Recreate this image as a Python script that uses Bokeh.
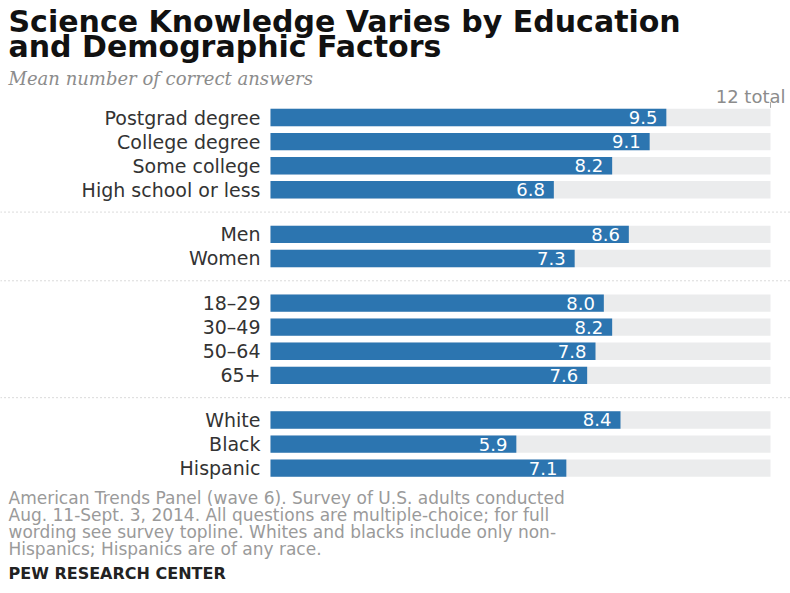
from bokeh.plotting import figure
from bokeh.models import Range1d, Span, Label, ColumnDataSource
from bokeh.core.properties import value
from bokeh.embed import file_html
from bokeh.resources import INLINE

# ---- data ----
categories = ["Postgrad degree", "College degree", "Some college", "High school or less",
              "Men", "Women",
              "18\u201329", "30\u201349", "50\u201364", "65+",
              "White", "Black", "Hispanic"]
scores = [9.5, 9.1, 8.2, 6.8, 8.6, 7.3, 8.0, 8.2, 7.8, 7.6, 8.4, 5.9, 7.1]
groups = [0, 0, 0, 0, 1, 1, 2, 2, 2, 2, 3, 3, 3]
total = 12
title_text = "Science Knowledge Varies by Education\nand Demographic Factors"
subtitle_text = "Mean number of correct answers"
note_text = ("American Trends Panel (wave 6). Survey of U.S. adults conducted\n"
             "Aug. 11-Sept. 3, 2014. All questions are multiple-choice; for full\n"
             "wording see survey topline. Whites and blacks include only non-\n"
             "Hispanics; Hispanics are of any race.")
source_text = "PEW RESEARCH CENTER"

# ---- layout ----
W, H = 790, 593
GAP = 0.85          # extra space between groups, in rows
ROW_PX = 24.1       # pixels per row
PX_PER_UNIT = 500 / total
BAR_LEFT_PX = 270   # canvas x of value 0
FIRST_ROW_PX = 117  # canvas y of first row

pos = [i + g * GAP for i, g in enumerate(groups)]
x0 = -BAR_LEFT_PX / PX_PER_UNIT
x1 = x0 + W / PX_PER_UNIT
ytop = -FIRST_ROW_PX / ROW_PX
ybot = ytop + H / ROW_PX

src = ColumnDataSource(dict(
    y=pos, cat=categories, v=scores, t=[total] * len(scores),
    lbl=["%.1f" % s for s in scores]))

p = figure(width=W, height=H, output_backend="svg", toolbar_location=None,
           x_range=Range1d(x0, x1), y_range=Range1d(ybot, ytop),
           x_axis_location=None, y_axis_location=None, title=None,
           min_border=0, min_border_left=0, min_border_right=0,
           min_border_top=0, min_border_bottom=0)
p.grid.visible = False
p.outline_line_color = None
p.background_fill_color = "white"
p.border_fill_color = "white"

BAR_H = 0.72
p.hbar(y="y", left=0, right="t", height=BAR_H, source=src,
       fill_color="#ebeced", line_color=None)
p.hbar(y="y", left=0, right="v", height=BAR_H, source=src,
       fill_color="#2c75b0", line_color=None)

p.text(x=0, y="y", text="cat", source=src, x_offset=-10,
       text_align="right", text_baseline="middle",
       text_font=value("DejaVu Sans"), text_font_size="19px", text_color="#333333")
p.text(x="v", y="y", text="lbl", source=src, x_offset=-9,
       text_align="right", text_baseline="middle",
       text_font=value("DejaVu Sans"), text_font_size="18px", text_color="white")

# group separators
for i in range(1, len(groups)):
    if groups[i] != groups[i - 1]:
        p.add_layout(Span(location=(pos[i] + pos[i - 1]) / 2, dimension="width",
                          line_color="#b5b5b5", line_width=1, line_dash="1 3"))

# "12 total" marker
p.segment(x0=[total], y0=[pos[0] - 0.64], x1=[total], y1=[pos[0] - 0.40],
          line_color="#aaaaaa", line_width=1)
p.add_layout(Label(x=total, y=pos[0] - 0.86, text="%d total" % total,
                   x_offset=15, text_align="right", text_baseline="alphabetic",
                   text_font="DejaVu Sans", text_font_size="18px",
                   text_color="#8c8c8c"))


def sy(img_y):
    return H - img_y


p.add_layout(Label(x=8, y=sy(3), x_units="screen", y_units="screen",
                   text=title_text, text_baseline="top", text_align="left",
                   text_font="DejaVu Sans", text_font_style="bold",
                   text_font_size="30px", text_line_height=0.72,
                   text_color="#111111"))
p.add_layout(Label(x=8, y=sy(78), x_units="screen", y_units="screen",
                   text=subtitle_text, text_baseline="alphabetic",
                   text_font="DejaVu Serif", text_font_style="italic",
                   text_font_size="18px", text_color="#8c8c8c"))
p.add_layout(Label(x=8, y=sy(487), x_units="screen", y_units="screen",
                   text=note_text, text_baseline="top",
                   text_font="DejaVu Sans", text_font_size="17px",
                   text_line_height=0.86, text_color="#9a9a9a"))
p.add_layout(Label(x=8, y=sy(573), x_units="screen", y_units="screen",
                   text=source_text, text_baseline="alphabetic",
                   text_font="DejaVu Sans", text_font_style="bold",
                   text_font_size="16px", text_color="#222222"))

open("out.html", "w").write(file_html(p, INLINE))
